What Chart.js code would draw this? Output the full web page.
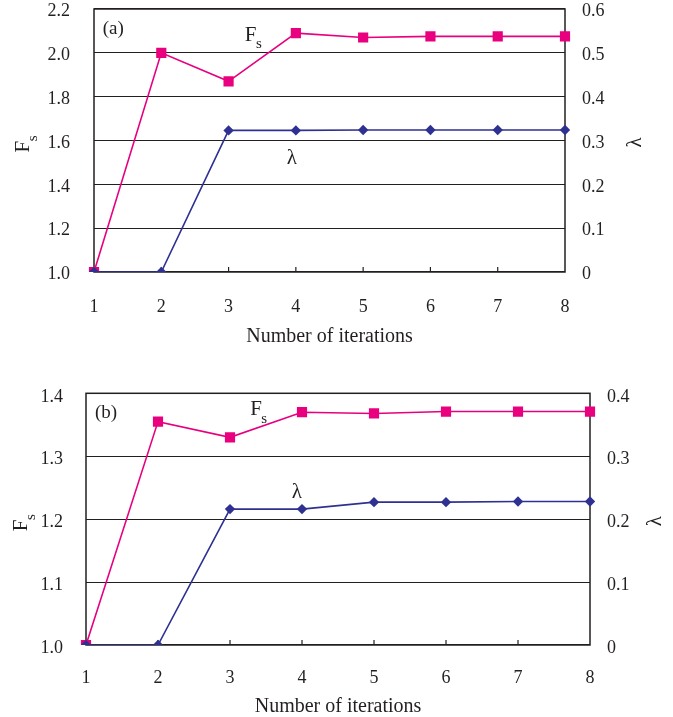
<!DOCTYPE html>
<html>
<head>
<meta charset="utf-8">
<script src="https://cdn.jsdelivr.net/npm/chart.js@4/dist/chart.umd.min.js"></script>
<style>
  html,body{margin:0;padding:0;background:#fff;}
  body{width:673px;height:717px;position:relative;overflow:hidden;}
  .box{position:absolute;left:0;width:673px;}
</style>
</head>
<body>
<div class="box" id="boxA" style="top:0;height:356px;"><canvas id="cA"></canvas></div>
<div class="box" id="boxB" style="top:360px;height:357px;"><canvas id="cB"></canvas></div>
<script>
// ---- data ----
const iterations = ['1','2','3','4','5','6','7','8'];
const fsA = [1.00, 2.00, 1.87, 2.09, 2.07, 2.075, 2.075, 2.075];
const lambdaA = [0, 0, 0.323, 0.323, 0.324, 0.324, 0.324, 0.324];
const fsB = [1.00, 1.355, 1.330, 1.370, 1.368, 1.371, 1.371, 1.371];
const lambdaB = [0, 0, 0.216, 0.216, 0.227, 0.227, 0.228, 0.228];
const fsTicksA = [1.0, 2.2, 0.2];      // min, max, step
const lamTicksA = [0, 0.6, 0.1];
const fsTicksB = [1.0, 1.4, 0.1];
const lamTicksB = [0, 0.4, 0.1];

const MAGENTA = '#e8007f';
const NAVY = '#2e3192';
const FONT = "'Liberation Serif', 'Times New Roman', serif";
const INK = '#231f20';

function drawFs(ctx, x, y, size) {
  // "F" with subscript "s"; x = left, y = baseline of F
  ctx.font = size + 'px ' + FONT;
  ctx.textBaseline = 'alphabetic';
  ctx.textAlign = 'left';
  ctx.fillText('F', x, y);
  const w = ctx.measureText('F').width;
  ctx.font = Math.round(size * 0.72) + 'px ' + FONT;
  ctx.fillText('s', x + w - 0.5, y + size * 0.36);
}

function makeChart(id, fs, lam, fsT, lamT, geom) {
  const overlay = {
    id: 'overlay',
    beforeDatasetsDraw(chart) {
      const ctx = chart.ctx, a = chart.chartArea, xs = chart.scales.x;
      ctx.save();
      ctx.strokeStyle = INK;
      ctx.lineWidth = 1.5;
      ctx.strokeRect(a.left, a.top, a.right - a.left, a.bottom - a.top);
      ctx.lineWidth = 1.2;
      for (let i = 1; i < iterations.length - 1; i++) {
        const px = xs.getPixelForValue(i);
        ctx.beginPath();
        ctx.moveTo(px, a.bottom);
        ctx.lineTo(px, a.bottom - 5);
        ctx.stroke();
      }
      ctx.restore();
    },
    afterDraw(chart) {
      const ctx = chart.ctx, a = chart.chartArea;
      const xs = chart.scales.x, ys = chart.scales.y;
      // x positions given as iteration numbers -> category index = value - 1
      const px = v => xs.getPixelForValue(v - 1);
      ctx.save();
      ctx.fillStyle = INK;
      // panel label
      ctx.font = '19px ' + FONT;
      ctx.textAlign = 'left';
      ctx.textBaseline = 'middle';
      ctx.fillText(geom.panel, px(geom.panelPos[0]), ys.getPixelForValue(geom.panelPos[1]));
      // series labels
      drawFs(ctx, px(geom.fsPos[0]), ys.getPixelForValue(geom.fsPos[1]), 21);
      ctx.font = '21px ' + FONT;
      ctx.textAlign = 'center';
      ctx.textBaseline = 'middle';
      ctx.fillText('λ', px(geom.lamPos[0]), ys.getPixelForValue(geom.lamPos[1]));
      // x title
      ctx.font = '20px ' + FONT;
      ctx.textAlign = 'center';
      ctx.textBaseline = 'middle';
      ctx.fillText('Number of iterations', (a.left + a.right) / 2, geom.xTitleY);
      // left title (rotated)
      ctx.save();
      ctx.translate(geom.leftTitleX, (a.top + a.bottom) / 2 + 12);
      ctx.rotate(-Math.PI / 2);
      drawFs(ctx, 0, 7, 21);
      ctx.restore();
      // right title (rotated)
      ctx.save();
      ctx.translate(geom.rightTitleX, (a.top + a.bottom) / 2 + 2);
      ctx.rotate(-Math.PI / 2);
      ctx.font = '21px ' + FONT;
      ctx.textAlign = 'center';
      ctx.textBaseline = 'middle';
      ctx.fillText('λ', 0, 0);
      ctx.restore();
      ctx.restore();
    }
  };

  const tickFont = { family: FONT, size: 18, lineHeight: 1 };
  return new Chart(document.getElementById(id), {
    type: 'line',
    data: {
      labels: iterations,
      datasets: [
        {
          label: 'λ', data: lam, yAxisID: 'y2', order: 0,
          borderColor: NAVY, backgroundColor: NAVY, borderWidth: 1.6,
          pointStyle: 'rectRot', pointRadius: 5.2, pointBorderWidth: 0,
          pointBackgroundColor: NAVY, tension: 0
        },
        {
          label: 'Fs', data: fs, yAxisID: 'y', order: 1,
          borderColor: MAGENTA, backgroundColor: MAGENTA, borderWidth: 1.6,
          pointStyle: 'rect', pointRadius: 7.2, pointBorderWidth: 0,
          pointBackgroundColor: MAGENTA, tension: 0
        }
      ]
    },
    options: {
      responsive: true,
      maintainAspectRatio: false,
      animation: false,
      events: [],
      layout: { padding: { top: geom.padTop, left: 0, right: 0, bottom: 0 } },
      plugins: { legend: { display: false }, tooltip: { enabled: false } },
      scales: {
        x: {
          type: 'category', offset: false,
          grid: { display: true, drawOnChartArea: false, drawTicks: true, tickLength: geom.xTickPad, tickColor: 'rgba(0,0,0,0)' },
          border: { display: false },
          ticks: { color: INK, font: tickFont, padding: 0, maxRotation: 0 },
          afterFit(s) { s.height = geom.xAxisH; }
        },
        y: {
          position: 'left', min: fsT[0], max: fsT[1],
          ticks: { stepSize: fsT[2], color: INK, font: tickFont, padding: 0, labelOffset: geom.yLabelOffset,
                   callback: v => v.toFixed(1) },
          grid: { color: INK, lineWidth: 1.1, drawTicks: true, tickLength: geom.yTickPad, tickColor: 'rgba(0,0,0,0)' },
          border: { display: false },
          afterFit(s) { s.width = geom.leftW; }
        },
        y2: {
          position: 'right', min: lamT[0], max: lamT[1],
          ticks: { stepSize: lamT[2], color: INK, font: tickFont, padding: 0, labelOffset: geom.yLabelOffset,
                   callback: v => (Math.abs(v) < 1e-9 ? '0' : v.toFixed(1)) },
          grid: { display: true, drawOnChartArea: false, drawTicks: true, tickLength: geom.y2TickPad, tickColor: 'rgba(0,0,0,0)' },
          border: { display: false },
          afterFit(s) { s.width = geom.rightW; }
        }
      }
    },
    plugins: [overlay]
  });
}

makeChart('cA', fsA, lambdaA, fsTicksA, lamTicksA, {
  panel: '(a)', panelPos: [1.13, 2.11], fsPos: [3.24, 2.056], lamPos: [3.94, 1.517],
  padTop: 8.5, xAxisH: 84, leftW: 94, rightW: 108, xTickPad: 26, yTickPad: 24, y2TickPad: 17,
  yLabelOffset: 2.5, xTitleY: 337, leftTitleX: 22, rightTitleX: 635
});
makeChart('cB', fsB, lambdaB, fsTicksB, lamTicksB, {
  panel: '(b)', panelPos: [1.125, 1.369], fsPos: [3.28, 1.3656], lamPos: [3.93, 1.242],
  padTop: 33.3, xAxisH: 72, leftW: 86, rightW: 83, xTickPad: 24, yTickPad: 23, y2TickPad: 17,
  yLabelOffset: 3.5, xTitleY: 347, leftTitleX: 20, rightTitleX: 655
});
</script>
</body>
</html>
